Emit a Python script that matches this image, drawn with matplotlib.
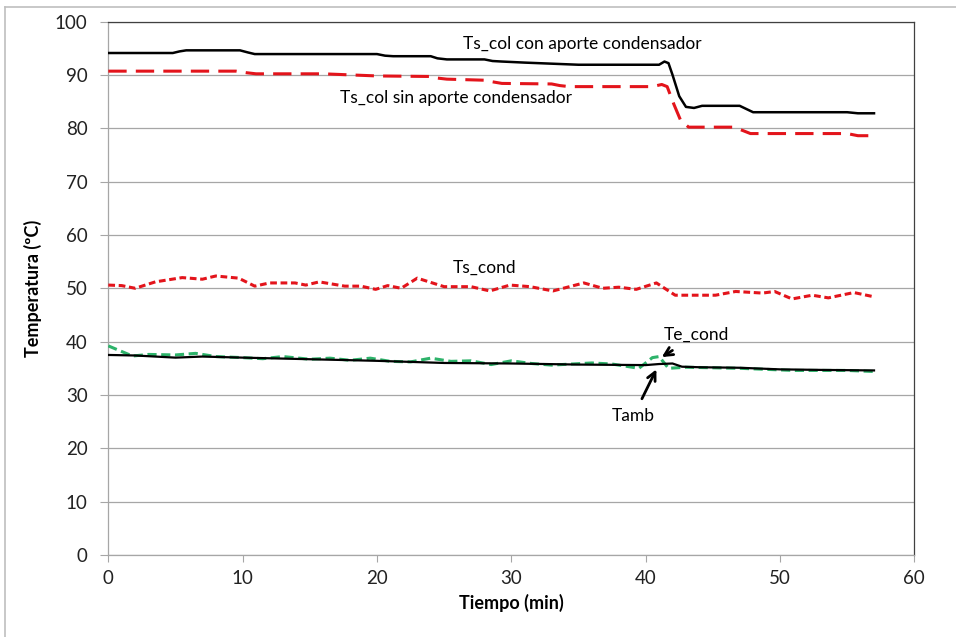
import matplotlib
matplotlib.use("Agg")
import matplotlib.pyplot as plt
from matplotlib.lines import Line2D

# ---- data ----
t_con = [0, 4.8, 5.3, 5.8, 9.8, 10.4, 10.9, 20, 20.6, 21.2, 24, 24.5, 25.2, 28, 28.6, 29.3, 31, 35, 41, 41.4, 41.7, 42.0, 42.5, 43, 43.6, 44.2, 47, 47.5, 48, 55, 55.8, 57]
v_con = [94.1, 94.1, 94.4, 94.6, 94.6, 94.2, 93.9, 93.9, 93.6, 93.5, 93.5, 93.1, 92.9, 92.9, 92.6, 92.5, 92.3, 91.9, 91.9, 92.5, 92.2, 90.0, 86.0, 84.0, 83.8, 84.2, 84.2, 83.6, 83.0, 83.0, 82.8, 82.8]

t_sin = [0, 9.5, 10.3, 11, 16, 20, 24, 24.5, 25.2, 28, 28.6, 29.3, 33, 33.6, 34.3, 40.5, 41.2, 41.6, 42.1, 42.6, 43.2, 46.5, 47.2, 47.8, 55, 55.8, 57]
v_sin = [90.7, 90.7, 90.4, 90.2, 90.2, 89.8, 89.7, 89.4, 89.2, 89.0, 88.7, 88.4, 88.3, 88.0, 87.8, 87.8, 88.2, 87.8, 84.5, 81.5, 80.2, 80.2, 79.6, 79.0, 79.0, 78.6, 78.6]

t_scond = [0, 1, 2, 3.5, 5.5, 7, 8, 9.7, 10.9, 12, 13.9, 14.7, 15.7, 17.6, 18.8, 19.9, 20.8, 21.8, 23, 25, 27, 28.4,
           29.9, 31.4, 33.1, 35.4, 36.8, 38, 39.3, 40.8, 42.2, 45.2, 46.7, 48.7, 49.6, 50.9, 52.4, 53.6, 55.5, 57]
v_scond = [50.6, 50.5, 50.0, 51.2, 52.0, 51.7, 52.3, 51.9, 50.4, 51.0, 51.0, 50.6, 51.2, 50.4, 50.4, 49.8, 50.5, 50.0, 51.9, 50.3, 50.3, 49.5,
           50.6, 50.3, 49.5, 51.0, 50.0, 50.2, 49.8, 51.0, 48.7, 48.7, 49.4, 49.1, 49.4, 48.0, 48.7, 48.2, 49.2, 48.4]

t_amb = [0, 2, 5, 7, 10, 15, 20, 25, 30, 35, 40, 41, 42, 42.7, 44, 47, 50, 53, 57]
v_amb = [37.5, 37.4, 37.0, 37.2, 37.0, 36.7, 36.4, 36.0, 35.9, 35.7, 35.6, 35.8, 35.9, 35.3, 35.2, 35.1, 34.8, 34.7, 34.6]

t_econd = [0, 1.8, 3, 5, 6.5, 8, 10, 11.5, 13, 15, 16.5, 18, 19.5, 21, 22.5, 24, 25.5, 27, 28.5, 30, 31.5, 33, 34.5, 36,
           37.5, 39.5, 40.5, 41, 41.7, 43, 45, 47, 49, 51, 53, 55, 57]
v_econd = [39.2, 37.3, 37.6, 37.5, 37.8, 37.2, 37.0, 36.8, 37.2, 36.7, 36.9, 36.5, 36.9, 36.3, 36.2, 36.9, 36.3, 36.4, 35.7, 36.4, 35.9, 35.6, 35.8, 36.0,
           35.8, 35.0, 37.0, 37.2, 35.0, 35.2, 35.1, 35.0, 34.8, 34.6, 34.6, 34.6, 34.4]

x_ticks = [0, 10, 20, 30, 40, 50, 60]
y_ticks = [0, 10, 20, 30, 40, 50, 60, 70, 80, 90, 100]

plt.rcParams['font.family'] = ['Lato', 'DejaVu Sans']

fig = plt.figure(figsize=(9.56, 6.37), dpi=100)
ax = fig.add_axes([0.1133, 0.1287, 0.8431, 0.8375])

ax.set_xlim(0, 60)
ax.set_ylim(0, 100)
ax.set_xticks(x_ticks)
ax.set_yticks(y_ticks)
ax.yaxis.grid(True, color='#a6a6a6', linewidth=0.9)
ax.set_axisbelow(True)

red = '#e3141b'
green = '#2db36a'
ax.plot(t_econd, v_econd, color=green, lw=2.2, dashes=(3, 1.5), zorder=3)
ax.plot(t_amb, v_amb, color='black', lw=1.6, zorder=4)
ax.plot(t_scond, v_scond, color=red, lw=2.2, dashes=(2.2, 1.2), zorder=3)
ax.plot(t_sin, v_sin, color=red, lw=2.2, dashes=(6, 3), zorder=3)
ax.plot(t_con, v_con, color='black', lw=1.8, zorder=4)

fs_ann = 12.5
ax.text(35.3, 95.8, 'Ts_col con aporte condensador', ha='center', va='center', fontsize=fs_ann)
ax.text(25.9, 85.7, 'Ts_col sin aporte condensador', ha='center', va='center', fontsize=fs_ann)
ax.text(28.0, 53.8, 'Ts_cond', ha='center', va='center', fontsize=fs_ann)
ax.annotate('Te_cond', xy=(41.2, 37.1), xytext=(43.8, 41.2), ha='center', va='center', fontsize=fs_ann,
            arrowprops=dict(arrowstyle='->', color='black', lw=2.0, shrinkA=6, shrinkB=0, mutation_scale=15))
ax.annotate('Tamb', xy=(40.8, 34.8), xytext=(39.1, 26.1), ha='center', va='center', fontsize=fs_ann,
            arrowprops=dict(arrowstyle='->', color='black', lw=2.0, shrinkA=5, shrinkB=0, mutation_scale=15))

for s in ['left', 'bottom']:
    ax.spines[s].set_color('#a6a6a6')
    ax.spines[s].set_linewidth(0.9)
for s in ['top', 'right']:
    ax.spines[s].set_color('#404040')
    ax.spines[s].set_linewidth(0.9)

fs = 13.5
ax.tick_params(axis='y', direction='out', length=6, color='#a6a6a6', labelsize=fs, pad=9, labelcolor='#222222')
ax.tick_params(axis='x', direction='out', length=5, color='#a6a6a6', labelsize=fs, pad=6, labelcolor='#222222')

ax.set_xlabel('Tiempo (min)', fontsize=13, fontweight='bold', labelpad=5)
ax.set_ylabel('Temperatura (ºC)', fontsize=13, fontweight='bold', labelpad=9)

# outer frame
W, H = 956, 637
fig.add_artist(Line2D([5 / W, 5 / W], [0, 1 - 7 / H], color='#bfbfbf', lw=1.2, transform=fig.transFigure))
fig.add_artist(Line2D([5 / W, 1], [1 - 7 / H, 1 - 7 / H], color='#bfbfbf', lw=1.2, transform=fig.transFigure))

fig.savefig('out.png', dpi=100)
